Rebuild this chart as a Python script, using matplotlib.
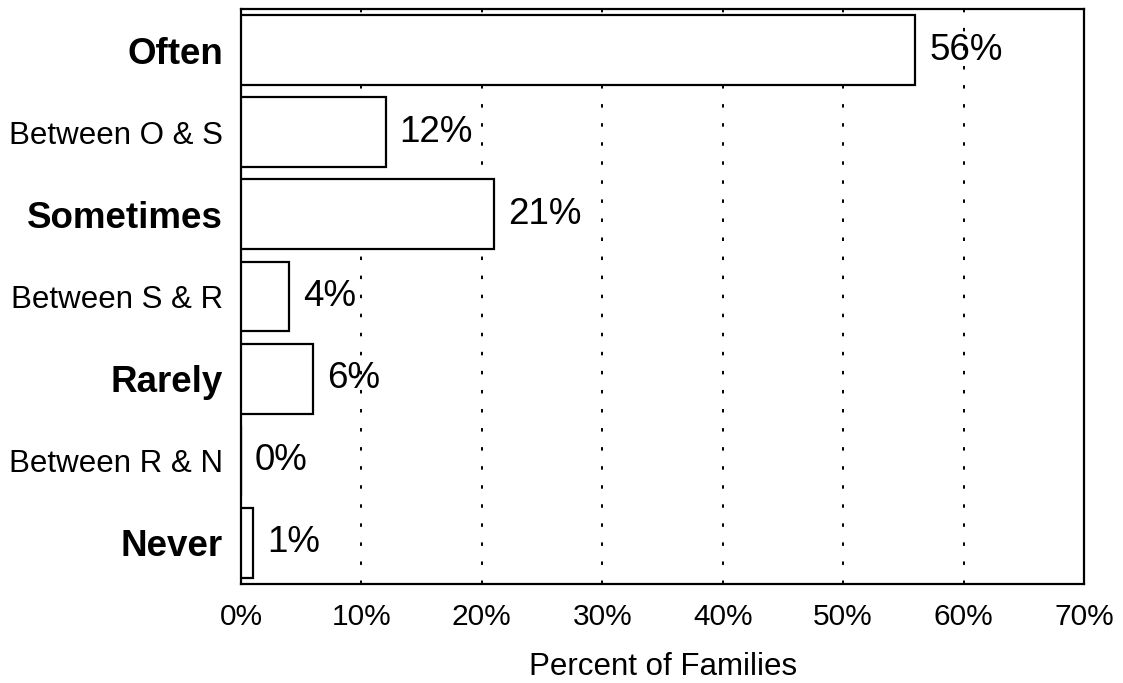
import matplotlib
matplotlib.use("Agg")
import matplotlib.pyplot as plt
from matplotlib.ticker import FuncFormatter

categories = ['Often', 'Between O & S', 'Sometimes', 'Between S & R',
              'Rarely', 'Between R & N', 'Never']
percents = [56, 12, 21, 4, 6, 0, 1]
bold_labels = ['Often', 'Sometimes', 'Rarely', 'Never']
x_ticks = [0, 10, 20, 30, 40, 50, 60, 70]

plt.rcParams['font.family'] = ['Liberation Sans', 'DejaVu Sans']

fig = plt.figure(figsize=(11.23, 6.83), dpi=100)
ax = fig.add_axes([241/1123, 1 - 584/683, 843/1123, 575/683])

pos = list(range(len(categories)))
ax.barh(pos, percents, height=0.85, color='white', edgecolor='black',
        linewidth=1.6, zorder=3)

for y, v in zip(pos, percents):
    ax.annotate(f'{v}%', (v, y), xytext=(10, 0), textcoords='offset points',
                ha='left', va='center', fontsize=26.5, zorder=4)

ax.set_xlim(0, 70)
ax.set_ylim(6.5, -0.5)
ax.set_xticks(x_ticks)
ax.xaxis.set_major_formatter(FuncFormatter(lambda v, p: f'{v:.0f}%'))
ax.tick_params(axis='x', length=0, pad=14, labelsize=21.5)
ax.set_yticks(pos)
ax.set_yticklabels(categories)
ax.tick_params(axis='y', length=0, pad=13)
for lab in ax.get_yticklabels():
    if lab.get_text() in bold_labels:
        lab.set_fontweight('bold')
        lab.set_fontsize(26.5)
    else:
        lab.set_fontsize(22.5)

# sparse dotted gridlines
for g in x_ticks[1:-1]:
    ax.axvline(g, color='black', linestyle=(0, (1.8, 8)), linewidth=1.4, zorder=1)

for s in ax.spines.values():
    s.set_linewidth(1.6)

fig.text(663/1123, 1 - 667/683, 'Percent of Families', ha='center',
         va='center', fontsize=22.5)

fig.savefig('out.png', dpi=100, facecolor='white')
